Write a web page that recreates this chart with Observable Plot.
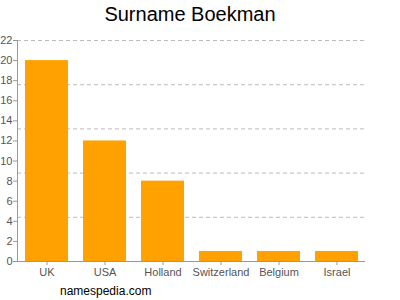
<!DOCTYPE html>
<html><head><meta charset="utf-8">
<script src="https://cdn.jsdelivr.net/npm/d3@7"></script>
<script src="https://cdn.jsdelivr.net/npm/@observablehq/plot@0.6"></script>
<style>
body{margin:0;background:#fff;font-family:"Liberation Sans",Arial,sans-serif;}
#wrap{position:relative;width:400px;height:300px;}
#title{position:absolute;left:90px;top:3px;width:200px;text-align:center;font-size:20px;color:#000;}
#cap{position:absolute;left:60px;top:284px;font-size:12px;color:#000;}
#chart{position:absolute;left:0;top:0;}
</style></head><body>
<div id="wrap"><div id="chart"></div><div id="title">Surname Boekman</div><div id="cap">namespedia.com</div></div>
<script>
const countries = ["UK","USA","Holland","Switzerland","Belgium","Israel"];
const counts = [20,12,8,1,1,1];
const yTicks = [0,2,4,6,8,10,12,14,16,18,20,22];
const gridValues = [4.4,8.8,13.2,17.6,22];
const data = countries.map((c,i)=>({country:c,count:counts[i]}));
const chart = Plot.plot({
  width:400,height:300,
  marginTop:40,marginBottom:39,marginLeft:17,marginRight:35,
  style:{fontFamily:"Liberation Sans, Arial, sans-serif",fontSize:"11px",color:"#555",background:"transparent"},
  x:{domain:countries,paddingInner:0.26,paddingOuter:0.13,label:null},
  y:{domain:[0,22],label:null},
  marks:[
    Plot.ruleY(gridValues,{stroke:"#bbb",strokeDasharray:"4,3",strokeWidth:1}),
    Plot.barY(data,{x:"country",y:"count",fill:"#ffa100"}),
    Plot.axisY({ticks:yTicks,tickSize:4,tickPadding:1,stroke:"#999",fill:"#555",fontSize:11}),
    Plot.axisX({tickSize:4,tickPadding:3,stroke:"#999",fill:"#555",fontSize:11}),
    Plot.frame({anchor:"left",stroke:"#999"}),
    Plot.ruleY([0],{stroke:"#999"})
  ]
});
document.getElementById("chart").appendChild(chart);
</script></body></html>
